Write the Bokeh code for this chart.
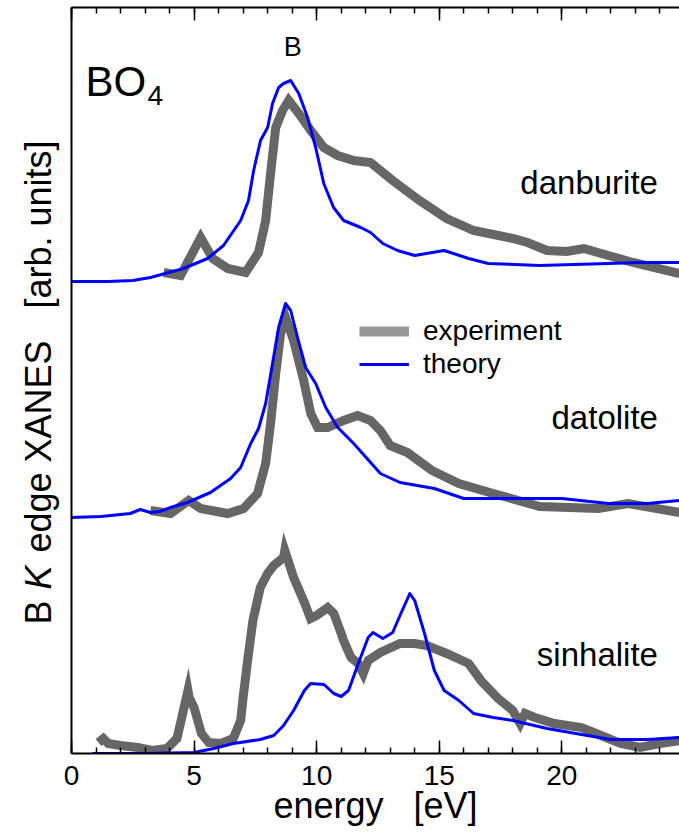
import numpy as np
from bokeh.plotting import figure
from bokeh.layouts import row
from bokeh.models import (Label, Legend, LegendItem, LinearAxis, SingleIntervalTicker,
                          FixedTicker, CustomJSTickFormatter, Range1d)
from bokeh.embed import file_html
from bokeh.resources import INLINE

# ---------------- data (energy in eV, intensity in arbitrary units) ----------------
dan_th_E = [0, 1.5, 2.5, 3.22, 4.57, 5.55, 6.20, 6.90, 7.22, 7.43, 7.71, 8.00, 8.20, 8.45, 8.65,
            8.94, 9.27, 9.63, 9.96, 10.29, 10.69, 11.10, 11.80, 12.20, 12.70, 13.3, 14.0, 15.2,
            16.2, 17.0, 19.1, 21.9, 23.2, 24.8]
dan_th_I = [0, 0, 1, 4, 13, 23, 36, 61, 81, 111, 141, 154, 178, 194, 198,
            201, 188, 164, 134, 98, 74, 61, 54, 49, 38, 31, 26, 31,
            23, 18, 16, 18, 19, 19]
dan_ex_E = [3.76, 4.45, 5.27, 5.76, 6.37, 7.10, 7.63, 7.92, 8.12, 8.33, 8.61, 8.86, 9.27, 9.76,
            10.29, 10.86, 11.51, 12.20, 13.1, 14.2, 15.3, 16.4, 18.0, 18.6, 19.4, 20.2, 20.9,
            21.9, 22.9, 24.8]
dan_ex_I = [9, 6, 44, 23, 13, 9, 29, 61, 108, 154, 171, 181, 168, 151,
            134, 126, 121, 119, 101, 81, 63, 51, 43, 39, 31, 30, 33,
            26, 19, 8]

dat_th_E = [0, 1.2, 2.4, 2.8, 3.22, 3.6, 4.04, 4.73, 5.67, 6.49, 6.90, 7.31, 7.63, 7.92, 8.20,
            8.45, 8.73, 8.94, 9.22, 9.55, 9.96, 10.37, 10.86, 11.51, 12.20, 12.6, 13.4, 14.8,
            16.0, 17.5, 20.0, 21.9, 23.5, 24.8]
dat_th_I = [0, 1, 4, 8, 5, 6, 10, 15, 25, 39, 50, 74, 89, 114, 154,
            190, 214, 207, 180, 150, 134, 110, 90, 74, 55, 44, 35, 29,
            19, 19, 19, 14, 14, 17]
dat_ex_E = [3.22, 4.04, 4.78, 5.27, 6.37, 7.02, 7.59, 7.92, 8.12, 8.33, 8.53, 8.73, 9.06, 9.47,
            9.76, 10.04, 10.45, 11.10, 11.67, 12.20, 12.6, 13.0, 13.7, 14.7, 15.8, 17.2, 19.1,
            21.5, 22.7, 24.8]
dat_ex_I = [7, 4, 17, 9, 4, 9, 24, 54, 94, 144, 184, 200, 177, 137,
            104, 90, 90, 97, 102, 97, 87, 72, 65, 47, 34, 24, 11,
            9, 14, 5]

sin_th_E = [0.85, 3.0, 5.0, 5.8, 6.6, 7.7, 8.25, 8.65, 9.06, 9.5, 9.75, 10.3, 10.7, 11.0, 11.3,
            11.7, 12.1, 12.3, 12.7, 13.1, 13.4, 13.8, 14.0, 14.4, 14.8, 15.2, 15.8, 16.4, 17.2,
            18.0, 19.4, 20.8, 22.0, 23.5, 24.8]
sin_th_I = [0, 0, 1, 5, 10, 14, 18, 28, 43, 63, 70, 69, 60, 57, 63,
            90, 116, 121, 115, 121, 138, 160, 153, 120, 83, 63, 53, 40, 36,
            33, 25, 19, 14, 14, 16]
sin_ex_E = [1.1, 1.3, 1.5, 2.0, 2.7, 3.3, 3.9, 4.3, 4.5, 4.75, 4.8, 5.0, 5.3, 5.6, 6.1, 6.6,
            6.9, 7.0, 7.2, 7.4, 7.7, 8.0, 8.25, 8.65, 8.7, 9.06, 9.5, 9.75, 10.0, 10.45, 10.7,
            11.0, 11.1, 11.4, 11.7, 11.9, 12.1, 12.6, 13.4, 14.0, 14.5, 15.3, 16.2, 16.7, 17.4,
            18.0, 18.3, 18.5, 18.9, 19.7, 20.8, 21.6, 22.4, 23.2, 24.0, 24.8]
sin_ex_I = [11, 15, 10, 8, 6, 3, 5, 15, 36, 63, 56, 46, 20, 11, 10, 15,
            33, 56, 96, 133, 166, 180, 188, 196, 203, 176, 151, 135, 138, 146, 140,
            120, 113, 96, 90, 80, 93, 101, 110, 110, 108, 100, 90, 73, 55,
            43, 30, 40, 36, 30, 26, 18, 10, 6, 10, 13]

# vertical offsets of the stacked spectra
OFF_DAN = 472
OFF_DAT = 236
OFF_SIN = 0

x_ticks_interval = 5

FONT = "Liberation Sans"
GRAY = "#666666"
BLUE = "#0000ff"
NB = "\u00a0"

TOP, BOTTOM = 7, 79
Y_RANGE = (0, 746)

# ---------------- main plot ----------------
p = figure(width=618, height=832, x_range=Range1d(0, 24.8), y_range=Range1d(*Y_RANGE),
           output_backend="svg", toolbar_location=None,
           x_axis_location=None, y_axis_location=None,
           min_border_left=10, min_border_right=0, min_border_top=TOP, min_border_bottom=BOTTOM)
p.grid.grid_line_color = None
p.outline_line_color = None
p.background_fill_color = "white"
p.border_fill_color = "white"


def style_axis(ax):
    ax.axis_line_width = 2
    ax.axis_line_color = "black"
    ax.major_tick_line_color = "black"
    ax.minor_tick_line_color = "black"
    ax.major_tick_line_width = 1.5
    ax.minor_tick_line_width = 1.5
    ax.major_tick_in = 13
    ax.major_tick_out = 0
    ax.minor_tick_in = 6
    ax.minor_tick_out = 0


bottom = LinearAxis(ticker=SingleIntervalTicker(interval=x_ticks_interval, num_minor_ticks=5))
style_axis(bottom)
bottom.major_label_text_font = FONT
bottom.major_label_text_font_size = "28px"
bottom.major_label_text_color = "black"
bottom.major_label_standoff = 12
bottom.axis_label = "energy " + NB + " [eV]"
bottom.axis_label_text_font = FONT
bottom.axis_label_text_font_size = "36px"
bottom.axis_label_text_font_style = "normal"
bottom.axis_label_text_color = "black"
bottom.axis_label_standoff = -3
p.add_layout(bottom, "below")

top = LinearAxis(ticker=SingleIntervalTicker(interval=x_ticks_interval, num_minor_ticks=5),
                 formatter=CustomJSTickFormatter(code="return ''"))
style_axis(top)
top.major_label_text_font_size = "0px"
top.major_label_standoff = 0
p.add_layout(top, "above")

left = LinearAxis(ticker=FixedTicker(ticks=[]))
left.axis_line_width = 2
left.axis_line_color = "black"
left.major_label_text_font_size = "0px"
left.major_label_standoff = 0
left.major_tick_in = 0
left.major_tick_out = 0
left.minor_tick_in = 0
left.minor_tick_out = 0
p.add_layout(left, "left")

# spectra
for E, I, off in [(dan_ex_E, dan_ex_I, OFF_DAN), (dat_ex_E, dat_ex_I, OFF_DAT), (sin_ex_E, sin_ex_I, OFF_SIN)]:
    p.line(E, np.array(I) + off, line_color=GRAY, line_width=9, line_join="miter")
for E, I, off in [(dan_th_E, dan_th_I, OFF_DAN), (dat_th_E, dat_th_I, OFF_DAT), (sin_th_E, sin_th_I, OFF_SIN)]:
    p.line(E, np.array(I) + off, line_color=BLUE, line_width=3, line_join="round")

# legend (legend-only renderers: nothing drawn in the plot area)
r_exp = p.line(x=[np.nan], y=[np.nan], line_color="#999999", line_width=10)
r_th = p.line(x=[np.nan], y=[np.nan], line_color=BLUE, line_width=3)
legend = Legend(items=[LegendItem(label="experiment", renderers=[r_exp]),
                       LegendItem(label="theory", renderers=[r_th])],
                location=(288, 373), orientation="vertical",
                border_line_color=None, background_fill_alpha=0,
                padding=0, margin=0, spacing=0, glyph_width=50, glyph_height=30,
                label_standoff=14, label_text_font=FONT, label_text_font_size="28px",
                label_text_color="black", label_height=33)
p.add_layout(legend)


def lab(fig, x, y, text, size, align="left", angle=0, style="normal"):
    fig.add_layout(Label(x=x, y=y, text=text, text_font=FONT, text_font_size=size,
                         text_align=align, text_baseline="middle", angle=angle,
                         text_font_style=style, text_color="black"))


lab(p, 23.92, 571, "danburite", "33px", align="right")
lab(p, 23.92, 336, "datolite", "33px", align="right")
lab(p, 23.92, 99, "sinhalite", "33px", align="right")
lab(p, 9.02, 707, "B", "27px", align="center")
lab(p, 0.57, 672, "BO", "42px")
lab(p, 3.1, 658, "4", "28px")

# ---------------- y-axis title panel (mixed upright / italic text) ----------------
# same borders as the main plot; x range in page pixels, y range in the main plot's units
ylab = figure(width=61, height=832, x_range=Range1d(10, 61), y_range=Range1d(*Y_RANGE),
              output_backend="svg", toolbar_location=None,
              x_axis_location=None, y_axis_location=None,
              min_border_left=10, min_border_right=0, min_border_top=TOP, min_border_bottom=BOTTOM)
ylab.grid.grid_line_color = None
ylab.outline_line_color = None
ylab.background_fill_color = "white"
ylab.border_fill_color = "white"
YX = 37.5
lab(ylab, YX, 129, "B", "36px", angle=np.pi / 2)
lab(ylab, YX, 164, "K", "36px", angle=np.pi / 2, style="italic")
lab(ylab, YX, 201, "edge XANES", "36px", angle=np.pi / 2)
lab(ylab, YX, 445, "[arb. units]", "36px", angle=np.pi / 2)

layout = row(ylab, p, spacing=0)
open("out.html", "w").write(file_html(layout, INLINE))
